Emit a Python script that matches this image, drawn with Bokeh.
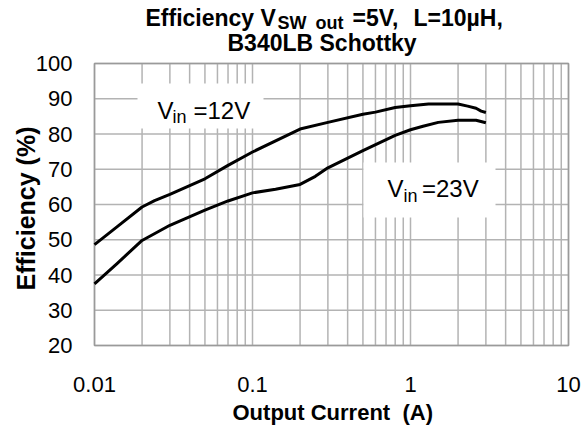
import math
from bokeh.plotting import figure
from bokeh.models import Range1d
from bokeh.core.properties import value
from bokeh.embed import file_html
from bokeh.resources import INLINE

# ---- data ----
current_12v = [0.01, 0.014, 0.02, 0.024, 0.03, 0.05, 0.07, 0.1, 0.2, 0.3, 0.5, 0.6, 0.8, 1.0, 1.3, 2.0, 2.3, 2.6, 2.8, 3.0]
eff_12v = [48.6, 53.8, 59.3, 61.1, 62.9, 67.3, 71.1, 74.9, 81.4, 83.3, 85.6, 86.2, 87.5, 88.0, 88.5, 88.5, 87.9, 87.3, 86.5, 86.1]
current_23v = [0.01, 0.014, 0.02, 0.03, 0.05, 0.07, 0.1, 0.14, 0.2, 0.25, 0.3, 0.5, 0.8, 1.0, 1.2, 1.5, 2.0, 2.6, 3.0]
eff_23v = [37.5, 43.4, 49.8, 54.1, 58.4, 61.0, 63.3, 64.3, 65.7, 68.0, 70.4, 75.3, 79.6, 81.2, 82.2, 83.3, 83.9, 83.9, 83.2]
x_ticks = [0.01, 0.1, 1, 10]
x_tick_labels = ["0.01", "0.1", "1", "10"]
y_ticks = [20, 30, 40, 50, 60, 70, 80, 90, 100]
y_tick_labels = [str(v) for v in y_ticks]

FONT = value("Liberation Sans")
GRID = "#b3b3b3"
BORDER = "#9a9a9a"

W, H = 584, 435
# page-pixel layout of the plot area
PX_LEFT, PX_RIGHT, PX_TOP, PX_BOTTOM = 94, 568, 63, 345
DEC = (PX_RIGHT - PX_LEFT) / 3.0
YPX = (PX_BOTTOM - PX_TOP) / 80.0


def X(px):
    return 10 ** (-2 + (px - PX_LEFT) / DEC)


def Y(py):
    return 20 + (PX_BOTTOM - py) / YPX


p = figure(width=W, height=H, x_axis_type="log",
           x_range=Range1d(X(0), X(W)), y_range=Range1d(Y(H), Y(0)),
           output_backend="svg", toolbar_location=None, title=None,
           x_axis_location=None, y_axis_location=None,
           min_border=0, min_border_left=0, min_border_right=0,
           min_border_top=0, min_border_bottom=0)
p.outline_line_color = None
p.background_fill_color = "white"
p.border_fill_color = "white"
p.xgrid.visible = False
p.ygrid.visible = False

# grid lines (major + minor decades)
minor = [m * d for d in x_ticks[:-1] for m in range(2, 10)]
vx = x_ticks + minor
p.segment(x0=vx, x1=vx, y0=[y_ticks[0]] * len(vx), y1=[y_ticks[-1]] * len(vx),
          line_color=GRID, line_width=1.5)
p.segment(x0=[x_ticks[0]] * len(y_ticks), x1=[x_ticks[-1]] * len(y_ticks), y0=y_ticks, y1=y_ticks,
          line_color=GRID, line_width=1.5)
# plot border
p.quad(left=[x_ticks[0]], right=[x_ticks[-1]], bottom=[y_ticks[0]], top=[y_ticks[-1]],
       fill_color=None, line_color=BORDER, line_width=1.5)

# white label boxes
p.quad(left=[X(137), X(363)], right=[X(263), X(495)], bottom=[Y(128), Y(217)], top=[Y(83), Y(162)],
       fill_color="white", line_color=None)

# curves
p.line(current_12v, eff_12v, line_color="black", line_width=3, line_join="round")
p.line(current_23v, eff_23v, line_color="black", line_width=3, line_join="round")


def txt(x, y, t, size, bold=False, align="left", angle=0.0):
    # y is the vertical centre of the text (pixels from the top of the page)
    p.text(x=x, y=y, text=t, text_font=FONT, text_font_size=f"{size}px",
           text_font_style="bold" if bold else "normal", text_color="black",
           text_align=align, text_baseline="middle", angle=angle)


# tick labels
txt([X(72)] * len(y_ticks), y_ticks, y_tick_labels, 22, align="right")
txt(x_ticks, [Y(383.5)] * len(x_ticks), x_tick_labels, 22, align="center")

# axis titles
txt([X(232)], [Y(412)], ["Output Current"], 22, bold=True)
txt([X(402)], [Y(412)], ["(A)"], 22, bold=True)
txt([X(25)], [Y(208)], ["Efficiency (%)"], 25, bold=True, align="center", angle=math.pi / 2)

# series labels
txt([X(157)], [Y(109.5)], ["V"], 24)
txt([X(172)], [Y(116.5)], ["in"], 18)
txt([X(193)], [Y(109.5)], ["=12V"], 24)
txt([X(387)], [Y(188)], ["V"], 24)
txt([X(403)], [Y(195)], ["in"], 18)
txt([X(421.5)], [Y(188)], ["=23V"], 24)

# chart title
txt([X(145)], [Y(17)], ["Efficiency V"], 23, bold=True)
txt([X(277)], [Y(22)], ["SW"], 18, bold=True)
txt([X(315)], [Y(22)], ["out"], 18, bold=True)
txt([X(352)], [Y(17)], ["=5V,"], 23, bold=True)
txt([X(413)], [Y(17)], ["L=10µH,"], 23, bold=True)
txt([X(227)], [Y(42)], ["B340LB Schottky"], 23, bold=True)

open("out.html", "w").write(file_html(p, INLINE))
